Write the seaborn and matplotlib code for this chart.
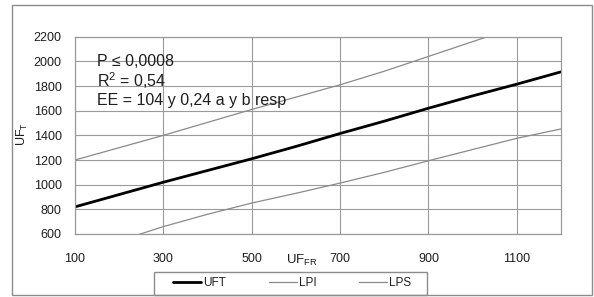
import matplotlib
matplotlib.use("Agg")
import matplotlib.pyplot as plt
import seaborn as sns
import pandas as pd
from matplotlib.patches import Rectangle

# Data
uf_fr = [100, 200, 300, 400, 500, 600, 700, 800, 900, 1000, 1100, 1200]
uft = [820, 920, 1020, 1115, 1210, 1310, 1415, 1515, 1620, 1720, 1815, 1915]
lpi = [450, 545, 660, 760, 851, 930, 1013, 1100, 1194, 1285, 1376, 1452]
lps = [1200, 1300, 1400, 1505, 1610, 1710, 1810, 1920, 2040, 2160, 2280, 2400]
x_ticks = [100, 300, 500, 700, 900, 1100]
y_ticks = [600, 800, 1000, 1200, 1400, 1600, 1800, 2000, 2200]
annot = ["P \u2264 0,0008", "R$^2$ = 0,54", "EE = 104 y 0,24 a y b resp"]

sns.set_style("white")
plt.rcParams['font.family'] = ['Liberation Sans', 'DejaVu Sans']
plt.rcParams['mathtext.fontset'] = 'custom'
plt.rcParams['mathtext.rm'] = 'Liberation Sans'

df = pd.DataFrame({"x": uf_fr, "UFT": uft, "LPI": lpi, "LPS": lps})

W, H = 594, 297
fig = plt.figure(figsize=(W / 100, H / 100), dpi=100)
fig.patch.set_facecolor("white")
ax = fig.add_axes([75 / W, 1 - 234 / H, (561 - 75) / W, (234 - 36.7) / H])

grid_c = "#9a9a9a"
txt_c = "#1e1e1e"
ax.set_xlim(100, 1200)
ax.set_ylim(600, 2200)
ax.set_xticks(x_ticks)
ax.set_yticks(y_ticks)
ax.grid(True, color=grid_c, linewidth=0.8)
ax.set_axisbelow(True)
for s in ax.spines.values():
    s.set_color(grid_c)
    s.set_linewidth(0.9)

sns.lineplot(data=df, x="x", y="UFT", ax=ax, color="black", linewidth=2.0, label="UFT")
sns.lineplot(data=df, x="x", y="LPI", ax=ax, color="#8a8a8a", linewidth=0.9, label="LPI")
sns.lineplot(data=df, x="x", y="LPS", ax=ax, color="#8a8a8a", linewidth=0.9, label="LPS")

ax.tick_params(axis="both", which="both", direction="out", length=3, width=0.8,
               color=grid_c, labelsize=9, labelcolor=txt_c)
ax.tick_params(axis="y", pad=6.5)
ax.tick_params(axis="x", pad=11)
ax.set_xlabel("")
ax.set_ylabel("")

handles, labels = ax.get_legend_handles_labels()
ax.get_legend().remove()
leg = fig.legend(handles, labels, loc="center", bbox_to_anchor=(292 / W, 1 - 283.5 / H),
                 ncol=3, fontsize=8.5, frameon=False, handlelength=2.4,
                 handletextpad=0.15, columnspacing=3.6, borderpad=0.3)
for t in leg.get_texts():
    t.set_color(txt_c)

# legend frame
fig.patches.append(Rectangle((154 / W, 1 - 295 / H), (427 - 154) / W, (295 - 272) / H,
                             transform=fig.transFigure, fill=False,
                             edgecolor="#8c8c8c", linewidth=1.0))

# axis titles
fig.text(22 / W, 1 - 134 / H, "UF$_\\mathrm{T}$", rotation=90, ha="center", va="center",
         fontsize=9, color=txt_c)
fig.text(286 / W, 1 - 260 / H, "UF$_\\mathrm{FR}$", ha="left", va="center",
         fontsize=9.5, color=txt_c)

# annotations
for i, txt in enumerate(annot):
    fig.text(97 / W, 1 - (62 + 19 * i) / H, txt, ha="left", va="center",
             fontsize=11.5, color=txt_c)

# outer chart border
fig.patches.append(Rectangle((12 / W, 1 - 295 / H), (592 - 12) / W, (295 - 5) / H,
                             transform=fig.transFigure, fill=False,
                             edgecolor="#8c8c8c", linewidth=1.0))

fig.savefig("out.png", dpi=100)
